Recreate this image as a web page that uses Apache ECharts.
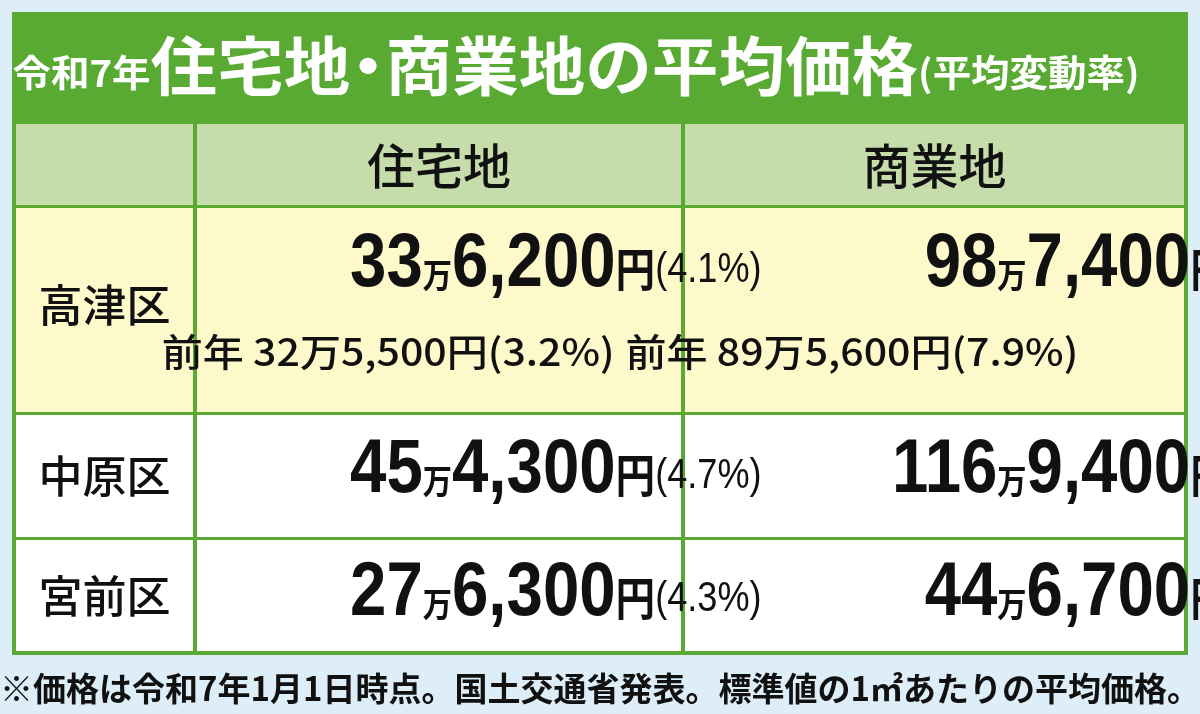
<!DOCTYPE html>
<html><head><meta charset="utf-8">
<script src="https://cdn.jsdelivr.net/npm/echarts@6/dist/echarts.min.js"></script>
<style>html,body{margin:0;padding:0;background:#ddeef8}#c{width:1200px;height:714px}</style>
</head><body><div id="c"></div>
<script>
const titleSmall = '令和7年';
const titleBig = '住宅地・商業地の平均価格';
const titleParen = '(平均変動率)';
const columns = ['住宅地', '商業地'];
const districts = ['高津区', '中原区', '宮前区'];
const resMan = ['33', '45', '27'];
const resRest = ['6,200', '4,300', '6,300'];
const resPct = ['4.1%', '4.7%', '4.3%'];
const comMan = ['98', '116', '44'];
const comRest = ['7,400', '9,400', '6,700'];
const comPct = ['9.2%', '9.1%', '4.9%'];
const prevRes = '前年 32万5,500円(3.2%)';
const prevCom = '前年 89万5,600円(7.9%)';
const footnote = '※価格は令和7年1月1日時点。国土交通省発表。標準値の1㎡あたりの平均価格。';

const G = '#58aa32';
const F = '"Noto Sans CJK JP", sans-serif';
const NUM = '"Liberation Sans", Arial, sans-serif';
const colX = [16, 193, 681, 1184];
const rowY = [124, 205, 412, 537, 651];
const rowBg = ['#c6dcaa', '#fdf9cb', '#ffffff', '#ffffff'];

const els = [];
els.push({type:'rect', shape:{x:12,y:12,width:1176,height:643}, style:{fill:G}});
for (let r = 0; r < 4; r++) {
  for (let c = 0; c < 3; c++) {
    els.push({type:'rect', shape:{x:colX[c] + (c?4:0), y:rowY[r]+(r?3:0), width:colX[c+1]-colX[c]-(c?4:0), height:rowY[r+1]-rowY[r]-(r?3:0)}, style:{fill:rowBg[r]}});
  }
}
els.push({type:'text', x:600, y:66, scaleX:1.04, originX:600, style:{text:'{s|'+titleSmall+'}{b|'+titleBig.replace('・','}{d|・}{b|')+'}{s|'+titleParen+'}', align:'center', verticalAlign:'middle',
  rich:{s:{fontFamily:F,fontSize:37,fontWeight:'bold',fill:'#fff',padding:[14,0,0,0]}, b:{fontFamily:F,fontSize:64,fontWeight:'bold',fill:'#fff'}, d:{fontFamily:F,fontSize:64,fontWeight:'bold',fill:'#fff',width:34,align:'center'}}}});
columns.forEach((t,i)=>{
  els.push({type:'text', x:(colX[i+1]+colX[i+2])/2+2, y:166, style:{text:t, fontFamily:F, fontSize:48, fontWeight:500, fill:'#111', align:'center', verticalAlign:'middle', letterSpacing:4}});
});
const valY = [265, 471, 594];
const rich = {
  n:{fontFamily:NUM,fontSize:76,fontWeight:'bold',fill:'#111'},
  m:{fontFamily:F,fontSize:34,fontWeight:'bold',fill:'#111',padding:[20,0,0,0]},
  y:{fontFamily:F,fontSize:46,fontWeight:'bold',fill:'#111',padding:[8,0,0,0]},
  p:{fontFamily:NUM,fontSize:42,fill:'#111',padding:[10,0,0,0]}
};
districts.forEach((d,i)=>{
  const cy = i===0 ? 305 : (rowY[i+1]+rowY[i+2])/2+2;
  els.push({type:'text', x:(colX[0]+colX[1])/2, y:cy, style:{text:d, fontFamily:F, fontSize:44, fontWeight:500, fill:'#111', align:'center', verticalAlign:'middle'}});
  els.push({type:'text', x:668, y:valY[i], scaleX:0.86, originX:668, style:{text:'{n|'+resMan[i]+'}{m|万}{n|'+resRest[i]+'}{y|円}{p|('+resPct[i]+')}', align:'right', verticalAlign:'middle', rich}});
  els.push({type:'text', x:1172, y:valY[i], scaleX:0.86, originX:1172, style:{text:'{n|'+comMan[i]+'}{m|万}{n|'+comRest[i]+'}{y|円}{p|('+comPct[i]+')}', align:'right', verticalAlign:'middle', rich}});
});
els.push({type:'text', x:668, y:352, scaleX:1.08, originX:668, style:{text:prevRes, fontFamily:F, fontSize:38, fontWeight:500, fill:'#111', align:'right', verticalAlign:'middle'}});
els.push({type:'text', x:1172, y:352, scaleX:1.08, originX:1172, style:{text:prevCom, fontFamily:F, fontSize:38, fontWeight:500, fill:'#111', align:'right', verticalAlign:'middle'}});
els.push({type:'text', x:600, y:688, style:{text:footnote, fontFamily:F, fontSize:33, fontWeight:'bold', fill:'#111', align:'center', verticalAlign:'middle'}});

const chart = echarts.init(document.getElementById('c'));
chart.setOption({backgroundColor:'#ddeef8', graphic:{elements:els}});
</script></body></html>
